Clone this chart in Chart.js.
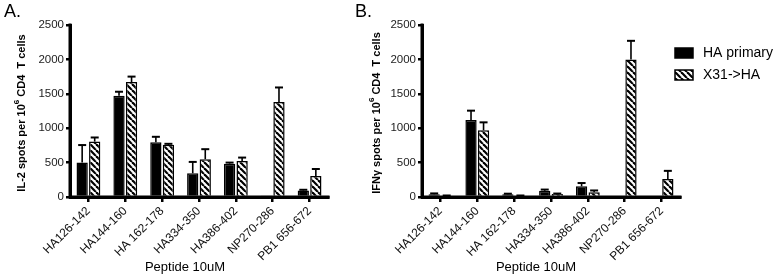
<!DOCTYPE html>
<html>
<head>
<meta charset="utf-8">
<script src="https://cdn.jsdelivr.net/npm/chart.js@4.4.1/dist/chart.umd.min.js"></script>
<style>
  html, body { margin:0; padding:0; background:#fff; }
  #wrap { position:relative; width:781px; height:280px; overflow:hidden; }
  canvas { position:absolute; top:0; }
</style>
</head>
<body>
<div id="wrap">
  <canvas id="cA" width="345" height="280" style="left:0px"></canvas>
  <canvas id="cB" width="436" height="280" style="left:345px"></canvas>
</div>
<script>
// ---- data ----
const categories = ["HA126-142", "HA144-160", "HA 162-178", "HA334-350", "HA386-402", "NP270-286", "PB1 656-672"];
const seriesNames = ["HA primary", "X31->HA"];
const yTicks = [0, 500, 1000, 1500, 2000, 2500];

const il2Primary    = [500, 1470, 795, 345, 485, 15, 95];
const il2PrimaryErr = [255, 60, 80, 165, 15, 0, 10];
const il2X31        = [805, 1670, 758, 550, 525, 1380, 305];
const il2X31Err     = [60, 80, 15, 145, 48, 212, 102];

const ifnPrimary    = [40, 1120, 40, 90, 155, 0, 0];
const ifnPrimaryErr = [12, 135, 8, 18, 48, 0, 0];
const ifnX31        = [18, 970, 18, 45, 70, 2000, 262];
const ifnX31Err     = [4, 115, 4, 5, 25, 270, 118];

const FONT = '"Liberation Sans", Arial, Helvetica, sans-serif';

function makeHatch() {
  const s = 6;
  const c = document.createElement('canvas');
  c.width = s; c.height = s;
  const g = c.getContext('2d');
  g.fillStyle = '#fff';
  g.fillRect(0, 0, s, s);
  g.strokeStyle = '#000';
  g.lineWidth = 2.2;
  for (const x0 of [-s, 0, s]) {
    g.beginPath();
    g.moveTo(x0, 0);
    g.lineTo(x0 + s, s);
    g.stroke();
  }
  return g.createPattern(c, 'repeat');
}
const hatch = makeHatch();

const errorBars = {
  id: 'errorBars',
  afterDatasetsDraw(chart, args, opts) {
    const ctx = chart.ctx;
    const ys = chart.scales.y;
    ctx.save();
    ctx.strokeStyle = '#000';
    chart.data.datasets.forEach((ds, i) => {
      const meta = chart.getDatasetMeta(i);
      const errs = opts.errors[i];
      meta.data.forEach((bar, j) => {
        const e = errs[j];
        if (!e) return;
        const top = ys.getPixelForValue(ds.data[j] + e);
        ctx.lineWidth = 1.6;
        ctx.beginPath();
        ctx.moveTo(bar.x, bar.y);
        ctx.lineTo(bar.x, top);
        ctx.stroke();
        ctx.lineWidth = 2;
        ctx.beginPath();
        ctx.moveTo(bar.x - 4, top);
        ctx.lineTo(bar.x + 4, top);
        ctx.stroke();
      });
    });
    ctx.restore();
  }
};

const axisLines = {
  id: 'axisLines',
  afterDraw(chart) {
    const ctx = chart.ctx;
    const xs = chart.scales.x, ys = chart.scales.y;
    const y0 = ys.getPixelForValue(0);
    const yTop = ys.getPixelForValue(2500);
    ctx.save();
    ctx.strokeStyle = '#000';
    ctx.lineWidth = 3;
    ctx.lineCap = 'square';
    ctx.beginPath();
    ctx.moveTo(xs.left, yTop);
    ctx.lineTo(xs.left, y0);
    ctx.lineTo(xs.right, y0);
    ctx.stroke();
    ctx.restore();
  }
};

function drawYTitle(ctx, cx, cy, prefix, sup, suffix) {
  ctx.save();
  ctx.translate(cx, cy);
  ctx.rotate(-Math.PI / 2);
  ctx.fillStyle = '#000';
  ctx.textBaseline = 'middle';
  const big = 'bold 11px ' + FONT;
  const small = 'bold 8px ' + FONT;
  ctx.font = big;
  const w1 = ctx.measureText(prefix).width;
  const w3 = ctx.measureText(suffix).width;
  ctx.font = small;
  const w2 = ctx.measureText(sup).width;
  const total = w1 + w2 + w3;
  let x = -total / 2;
  ctx.textAlign = 'left';
  ctx.font = big;
  ctx.fillText(prefix, x, 0);
  x += w1;
  ctx.font = small;
  ctx.fillText(sup, x, -5);
  x += w2;
  ctx.font = big;
  ctx.fillText(suffix, x, 0);
  ctx.restore();
}

const texts = {
  id: 'texts',
  afterDraw(chart, args, o) {
    const ctx = chart.ctx;
    ctx.save();
    ctx.fillStyle = '#000';
    ctx.font = '18px ' + FONT;
    ctx.textAlign = 'left';
    ctx.textBaseline = 'top';
    ctx.fillText(o.letter, o.letterX, 3);
    ctx.font = '13px ' + FONT;
    ctx.textAlign = 'center';
    ctx.textBaseline = 'middle';
    ctx.fillText('Peptide 10uM', o.xTitleX, 267);
    ctx.restore();
    const ca = chart.chartArea;
    drawYTitle(ctx, o.yTitleX, (ca.top + ca.bottom) / 2 + 2, o.yPrefix, '6', ' CD4  T cells');
    if (o.legend) {
      ctx.save();
      chart.data.datasets.forEach((ds, i) => {
        const y = o.legendY + i * 22;
        ctx.fillStyle = ds.backgroundColor;
        ctx.fillRect(o.legendX, y - 5, 18, 10);
        ctx.strokeStyle = '#000';
        ctx.lineWidth = 1.5;
        ctx.strokeRect(o.legendX, y - 5, 18, 10);
        ctx.fillStyle = '#000';
        ctx.font = '14px ' + FONT;
        ctx.textAlign = 'left';
        ctx.textBaseline = 'middle';
        ctx.fillText(ds.label, o.legendX + 28, y);
      });
      ctx.restore();
    }
  }
};

function build(id, d1, e1, d2, e2, yw, padRight, textOpts) {
  return new Chart(document.getElementById(id), {
    type: 'bar',
    data: {
      labels: categories,
      datasets: [
        { label: seriesNames[0], data: d1, backgroundColor: '#000', borderColor: '#000', borderWidth: 1.5,
          categoryPercentage: 0.68, barPercentage: 0.9 },
        { label: seriesNames[1], data: d2, backgroundColor: hatch, borderColor: '#000', borderWidth: 1.5,
          categoryPercentage: 0.68, barPercentage: 0.9 }
      ]
    },
    options: {
      responsive: false,
      animation: false,
      devicePixelRatio: 1,
      layout: { padding: { top: 25, right: padRight, bottom: 0, left: 0 } },
      plugins: {
        legend: { display: false },
        tooltip: { enabled: false },
        errorBars: { errors: [e1, e2] },
        texts: textOpts
      },
      scales: {
        x: {
          grid: { display: true, drawOnChartArea: false, offset: false, color: '#000', lineWidth: 2.5, tickLength: 5 },
          border: { display: true, color: '#000', width: 3 },
          ticks: { minRotation: 45, maxRotation: 45, autoSkip: false, padding: 2,
                   font: { family: FONT, size: 12 }, color: '#111' },
          afterFit(s) { s.height = 83; }
        },
        y: {
          min: 0, max: 2500,
          afterBuildTicks(s) { s.ticks = yTicks.map(v => ({ value: v })); },
          grid: { display: true, drawOnChartArea: false, color: '#000', lineWidth: 2.5, tickLength: 4 },
          border: { display: true, color: '#000', width: 3 },
          ticks: { padding: 2, font: { family: FONT, size: 11.5 }, color: '#222',
                   callback: v => String(v) },
          afterFit(s) { s.width = yw; }
        }
      }
    },
    plugins: [errorBars, axisLines, texts]
  });
}

build('cA', il2Primary, il2PrimaryErr, il2X31, il2X31Err, 70, 17,
  { letter: 'A.', letterX: 4, xTitleX: 185, yTitleX: 22, yPrefix: 'IL-2 spots per 10', legend: false });
build('cB', ifnPrimary, ifnPrimaryErr, ifnX31, ifnX31Err, 77, 101,
  { letter: 'B.', letterX: 10, xTitleX: 191, yTitleX: 32, yPrefix: 'IFN\u03b3 spots per 10', legend: true,
    legendX: 330, legendY: 53 });
</script>
</body>
</html>
